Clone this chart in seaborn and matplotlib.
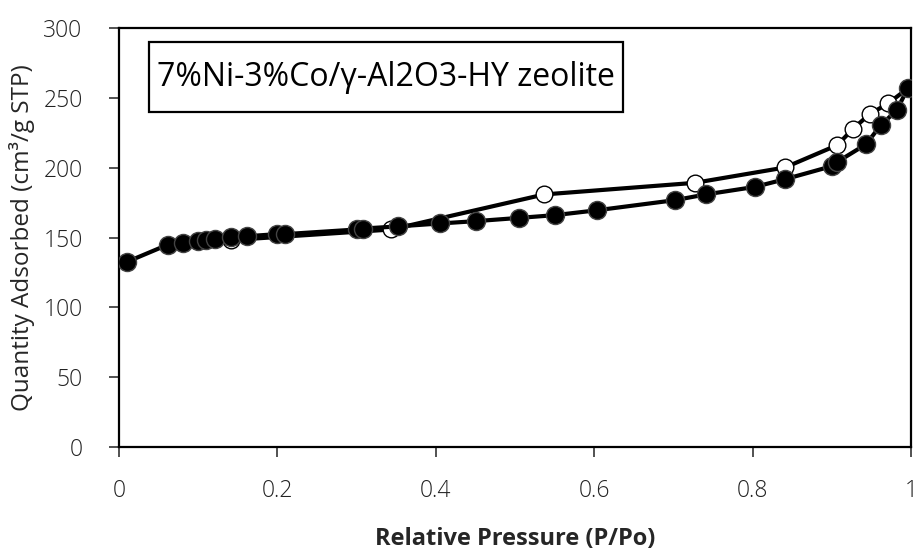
import seaborn as sns
import matplotlib.pyplot as plt
from matplotlib.patches import Rectangle
import pandas as pd

# adsorption branch (filled markers)
ads_p = [0.01, 0.062, 0.081, 0.100, 0.110, 0.121, 0.141, 0.162, 0.200, 0.210,
         0.300, 0.308, 0.352, 0.405, 0.451, 0.505, 0.551, 0.604, 0.702, 0.741,
         0.803, 0.841, 0.900, 0.907, 0.943, 0.962, 0.982, 0.996]
ads_q = [132.6, 145.0, 146.3, 147.7, 148.2, 148.9, 150.1, 151.0, 152.5, 152.5,
         155.8, 156.5, 158.0, 160.1, 161.8, 164.1, 166.1, 169.6, 176.8, 180.9,
         186.3, 191.8, 201.1, 204.2, 216.7, 230.5, 241.2, 256.8]

# desorption branch (open markers)
des_p = [0.996, 0.971, 0.948, 0.927, 0.907, 0.841, 0.727, 0.537, 0.344, 0.141]
des_q = [256.8, 246.0, 238.4, 228.0, 216.2, 200.2, 189.2, 180.9, 155.8, 148.2]

x_ticks = [0, 0.2, 0.4, 0.6, 0.8, 1]
x_labels = ['0', '0.2', '0.4', '0.6', '0.8', '1']
y_ticks = [0, 50, 100, 150, 200, 250, 300]

ads = pd.DataFrame({'p': ads_p, 'q': ads_q})
des = pd.DataFrame({'p': des_p, 'q': des_q})

sns.set_style("white")
plt.rcParams['font.family'] = ['Open Sans', 'DejaVu Sans']

fig = plt.figure(figsize=(9.15, 5.5), dpi=100)
ax = fig.add_axes([0.130, 0.187, 0.8656, 0.762])

sns.lineplot(data=des, x='p', y='q', sort=False, ax=ax, color='black',
             linewidth=3, marker='o', markersize=12, markerfacecolor='white',
             markeredgecolor='black', markeredgewidth=1.0, zorder=2)
sns.lineplot(data=ads, x='p', y='q', sort=False, ax=ax, color='black',
             linewidth=3, marker='o', markersize=13, markerfacecolor='black',
             markeredgecolor='#444444', markeredgewidth=1.0, zorder=3)

ax.set_xlim(0, 1)
ax.set_ylim(0, 300)
ax.set_xticks(x_ticks)
ax.set_xticklabels(x_labels)
ax.set_yticks(y_ticks)
ax.tick_params(axis='both', direction='out', length=7.2, width=1.2,
               labelsize=16.5, color='#333333', labelcolor='#222222',
               bottom=True, left=True)
ax.tick_params(axis='x', pad=16)
ax.tick_params(axis='y', pad=19)
for lab in ax.get_xticklabels() + ax.get_yticklabels():
    lab.set_fontweight('light')
for s in ax.spines.values():
    s.set_color('black')
    s.set_linewidth(1.6)

ax.set_xlabel('Relative Pressure (P/Po)', fontsize=17, fontweight='bold',
              labelpad=17)
ax.set_ylabel('Quantity Adsorbed (cm³/g STP)', fontsize=17.5, labelpad=6)

ax.add_patch(Rectangle((0.038, 0.80), 0.598, 0.167, transform=ax.transAxes,
                       facecolor='white', edgecolor='black', linewidth=1.6,
                       zorder=4))
ax.text(0.048, 0.883, '7%Ni-3%Co/γ-Al2O3-HY zeolite', transform=ax.transAxes,
        fontsize=23, va='center', ha='left', color='black', zorder=5)

fig.savefig('out.png', dpi=100)
